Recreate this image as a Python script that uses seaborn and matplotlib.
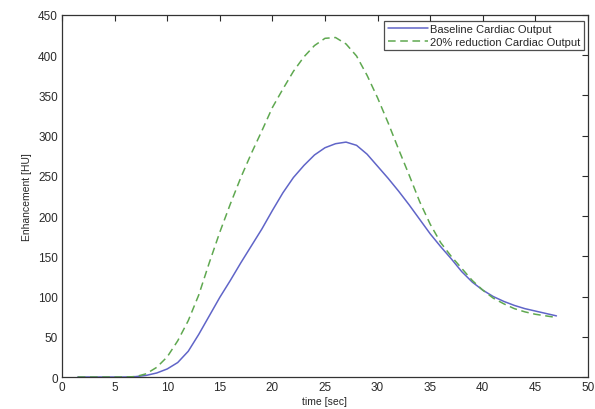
import numpy as np
import pandas as pd
import matplotlib
matplotlib.use("Agg")
import matplotlib.pyplot as plt
import seaborn as sns

# time axis (sec) and the two enhancement curves (HU)
time_sec = [1.5, 2, 3, 4, 5, 6, 7, 8, 9, 10, 11, 12, 13, 14, 15, 16, 17, 18, 19, 20,
            21, 22, 23, 24, 25, 26, 27, 28, 29, 30, 31, 32, 33, 34, 35, 36, 37, 38,
            39, 40, 41, 42, 43, 44, 45, 46, 47]
baseline = [0, 0, 0, 0, 0, 0, 0.5, 2, 5, 10, 18, 32, 53, 76, 99, 120, 142, 163, 184, 207,
            229, 248, 263, 276, 285, 290, 292, 288, 277, 262, 247, 231, 214, 196, 178, 162,
            147, 131, 118, 108, 100, 94, 89, 85, 82, 79, 76]
reduced = [0, 0, 0, 0, 0, 0, 0.5, 4, 12, 25, 45, 70, 102, 142, 180, 215, 248, 278, 306, 335,
           358, 380, 398, 412, 421, 422, 414, 399, 375, 347, 316, 283, 251, 218, 190, 167,
           150, 135, 120, 108, 98, 91, 85, 81, 78, 76, 74]

labels = ["Baseline Cardiac Output", "20% reduction Cardiac Output"]

df = pd.concat([
    pd.DataFrame({"t": time_sec, "HU": baseline, "curve": labels[0]}),
    pd.DataFrame({"t": time_sec, "HU": reduced, "curve": labels[1]}),
])

sns.set_style("white")
plt.rcParams['font.family'] = ['Liberation Sans', 'DejaVu Sans']
plt.rcParams['font.size'] = 8

fig = plt.figure(figsize=(5.95, 4.10), dpi=100)
ax = fig.add_axes([0.1042, 0.078, 0.8840, 0.883])

sns.lineplot(data=df, x="t", y="HU", hue="curve", style="curve",
             palette=["#6065c8", "#5fa850"], dashes=[(None, None), (5, 3)],
             linewidth=1.1, ax=ax)

ax.set_xlim(0, 50)
ax.set_ylim(0, 450)
ax.set_xticks(np.arange(0, 51, 5))
ax.set_yticks(np.arange(0, 451, 50))
ax.set_xlabel("time [sec]", fontsize=7.5, labelpad=2)
ax.set_ylabel("Enhancement [HU]", fontsize=7.5, labelpad=4)
ax.tick_params(direction="in", length=4, width=0.8, top=True, right=True,
               labelsize=8.5, colors="#2a2a2a", pad=3)
for s in ax.spines.values():
    s.set_color("#333333")
    s.set_linewidth(0.9)

leg = ax.legend(loc="upper right", bbox_to_anchor=(0.9915, 0.984), fontsize=8,
                frameon=True, fancybox=False, borderpad=0.3, handlelength=3.6,
                handletextpad=0.2, labelspacing=0.25, borderaxespad=0)
leg.get_frame().set_edgecolor("#222222")
leg.get_frame().set_linewidth(0.9)

fig.savefig("out.png", dpi=100)
